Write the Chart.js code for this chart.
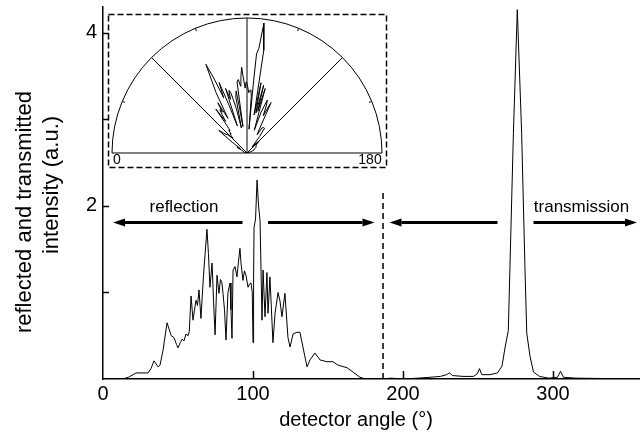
<!DOCTYPE html>
<html>
<head>
<meta charset="utf-8">
<script src="https://cdn.jsdelivr.net/npm/chart.js@4.4.1/dist/chart.umd.min.js"></script>
<style>
  html, body { margin: 0; padding: 0; background: #fff; }
  #wrap { position: relative; width: 640px; height: 439px; }
  #mainChart { position: absolute; left: 0; top: 0; }
  #insetChart { position: absolute; left: 100px; top: 5px; }
</style>
</head>
<body>
<div id="wrap">
  <canvas id="mainChart" width="640" height="439"></canvas>
  <canvas id="insetChart" width="295" height="170"></canvas>
</div>
<script>
// reflection side (detector angle 0..180)
const reflectionAngle = [13, 17, 20, 22, 26, 30, 32, 34, 36.7, 38, 40, 42.7, 44, 45.5, 47.3, 49, 50, 51.5, 52.7, 54,
  55.3, 56.7, 57.5, 58.7, 60, 61, 62, 63, 64, 65.3, 67, 69.3, 70.3, 71.3, 72.7, 73.7, 74.7, 76, 77.3, 78.3,
  79.3, 80, 81, 82, 83.3, 84.7, 85.3, 86, 86.7, 88, 89.3, 90.3, 91.3, 92, 93.3, 94.3, 95.3, 96.7, 97.7, 98.7,
  99.5, 100, 100.4, 100.7, 101.7, 102.7, 103.7, 104.7, 106, 106.7, 108, 109.3, 110, 111.3, 113.3, 114.7, 116.7, 118, 119.3, 121.3,
  123.3, 124.7, 126.7, 129.3, 131.3, 133.3, 136, 138, 141.3, 144.7, 149.3, 153.3, 156.7, 162.7, 166.7, 171.3, 175, 186.7];
const reflectionIntensity = [0.00, 0.02, 0.05, 0.07, 0.07, 0.07, 0.12, 0.21, 0.14, 0.16, 0.33, 0.65, 0.58, 0.50, 0.48, 0.40, 0.36, 0.42, 0.46, 0.44,
  0.52, 0.50, 0.55, 0.96, 0.68, 0.80, 0.91, 0.85, 1.03, 0.70, 1.20, 1.73, 1.45, 1.06, 1.34, 0.90, 0.51, 1.20, 0.99, 1.15,
  1.11, 0.99, 0.80, 0.45, 1.00, 1.11, 0.80, 0.47, 1.26, 1.30, 1.18, 1.35, 1.51, 1.34, 1.14, 1.25, 1.20, 1.06, 1.10, 1.11,
  1.00, 0.42, 1.20, 1.75, 1.85, 2.30, 2.00, 1.83, 0.68, 1.26, 0.72, 1.23, 0.76, 1.18, 0.42, 0.76, 1.00, 0.90, 0.72, 0.99,
  0.48, 0.37, 0.52, 0.54, 0.54, 0.37, 0.14, 0.22, 0.30, 0.22, 0.20, 0.20, 0.16, 0.13, 0.08, 0.02, 0.00, 0.00];

// transmission side
const transmissionAngle = [186.7, 192, 200, 210, 218, 225, 229, 231, 233, 240, 247, 249.5, 251, 252.5, 258, 263, 266, 268, 270.2, 271.3,
  273.6, 276.2, 279.1, 281.3, 282.5, 284.7, 287, 291, 297, 303, 305, 307, 315, 358];
const transmissionIntensity = [0.00, 0.01, 0.00, 0.01, 0.02, 0.03, 0.05, 0.07, 0.04, 0.03, 0.03, 0.06, 0.12, 0.05, 0.05, 0.07, 0.15, 0.36, 0.56, 1.29,
  2.84, 4.27, 2.84, 1.29, 0.53, 0.26, 0.08, 0.03, 0.01, 0.02, 0.09, 0.02, 0.01, 0.00];

const xTicks = [0, 100, 200, 300];
const yTicks = [1, 2, 3, 4];
const yLabelled = [2, 4];
const insetArcTicks = [22.5, 67.5, 112.5, 157.5];
const insetSpokes = [45, 90, 135];

const FONT = '"Liberation Sans", Arial, Helvetica, sans-serif';
Chart.defaults.font.family = FONT;
Chart.defaults.color = '#000';

const toXY = (xs, ys) => xs.map((v, i) => ({ x: v, y: ys[i] }));

function arrow(ctx, x0, x1, y) {
  const dir = Math.sign(x1 - x0);
  const head = 12;
  ctx.lineWidth = 3;
  ctx.beginPath();
  ctx.moveTo(x0, y);
  ctx.lineTo(x1 - dir * head, y);
  ctx.stroke();
  ctx.beginPath();
  ctx.moveTo(x1, y);
  ctx.lineTo(x1 - dir * head, y - 4);
  ctx.lineTo(x1 - dir * head, y + 4);
  ctx.closePath();
  ctx.fill();
}

// arrows, boundary line, labels and inward ticks
const decor = {
  id: 'decor',
  afterDraw(chart) {
    const { ctx, scales: { x, y } } = chart;
    ctx.save();
    ctx.strokeStyle = '#000';
    ctx.fillStyle = '#000';

    ctx.lineWidth = 1.5;
    xTicks.forEach(v => {
      if (v === 0) return;
      const px = Math.round(x.getPixelForValue(v)) + 0.5;
      ctx.beginPath(); ctx.moveTo(px, y.bottom); ctx.lineTo(px, y.bottom - 8); ctx.stroke();
    });
    yTicks.forEach(v => {
      const py = Math.round(y.getPixelForValue(v)) + 0.5;
      ctx.beginPath(); ctx.moveTo(x.left, py); ctx.lineTo(x.left + 6, py); ctx.stroke();
    });

    // reflection / transmission boundary
    const bx = x.getPixelForValue(186.7);
    ctx.setLineDash([6, 4]);
    ctx.lineWidth = 1.5;
    ctx.beginPath(); ctx.moveTo(bx, y.getPixelForValue(2.15)); ctx.lineTo(bx, y.bottom); ctx.stroke();
    ctx.setLineDash([]);

    const ay = y.getPixelForValue(1.81);
    [[93, 6.7], [110, 181], [263, 191], [287, 356]].forEach(([a, b]) => {
      arrow(ctx, x.getPixelForValue(a), x.getPixelForValue(b), ay);
    });

    ctx.font = '17px ' + FONT;
    ctx.textAlign = 'center';
    ctx.textBaseline = 'middle';
    ctx.fillText('reflection', x.getPixelForValue(54), y.getPixelForValue(1.98));
    ctx.fillText('transmission', x.getPixelForValue(319), y.getPixelForValue(1.98));

    // axis titles
    ctx.font = '20px ' + FONT;
    ctx.fillText('detector angle (\u00B0)', 356, 420);

    ctx.font = '22px ' + FONT;
    ctx.save();
    ctx.translate(25, 212); ctx.rotate(-Math.PI / 2);
    ctx.fillText('reflected and transmitted', 0, 0);
    ctx.restore();
    ctx.save();
    ctx.translate(52, 185); ctx.rotate(-Math.PI / 2);
    ctx.fillText('intensity (a.u.)', 0, 0);
    ctx.restore();

    ctx.restore();
  }
};

new Chart(document.getElementById('mainChart'), {
  type: 'line',
  data: {
    datasets: [
      { data: toXY(reflectionAngle, reflectionIntensity), borderColor: '#000', borderWidth: 1, pointRadius: 0, tension: 0 },
      { data: toXY(transmissionAngle, transmissionIntensity), borderColor: '#000', borderWidth: 1, pointRadius: 0, tension: 0 }
    ]
  },
  options: {
    responsive: false,
    animation: false,
    devicePixelRatio: 1,
    layout: { padding: { left: 0, right: 0, top: 7, bottom: 0 } },
    plugins: { legend: { display: false }, tooltip: { enabled: false } },
    scales: {
      x: {
        type: 'linear', min: 0, max: 358,
        afterBuildTicks: s => { s.ticks = xTicks.map(v => ({ value: v })); },
        afterFit: s => { s.height = 60; s.paddingLeft = 0; s.paddingRight = 0; },
        grid: { display: false, drawTicks: false },
        border: { display: true, color: '#000', width: 1.5 },
        ticks: { font: { size: 20 }, color: '#000', padding: 3, maxRotation: 0 }
      },
      y: {
        type: 'linear', min: 0, max: 4.3,
        afterBuildTicks: s => { s.ticks = yTicks.map(v => ({ value: v })); },
        afterFit: s => { s.width = 103; s.paddingTop = 0; s.paddingBottom = 0; },
        grid: { display: false, drawTicks: false },
        border: { display: true, color: '#000', width: 1.5 },
        ticks: { font: { size: 20 }, color: '#000', padding: 6,
          callback: v => yLabelled.includes(v) ? String(v) : '' }
      }
    }
  },
  plugins: [decor]
});

// inset: reflection data in polar form, 0 on the left, 180 on the right
const insetAngleOffset = -5;
const insetRMax = 2.46;
const insetPoints = reflectionAngle.map((a, i) => {
  const t = (180 - (a + insetAngleOffset)) * Math.PI / 180;
  return { x: reflectionIntensity[i] * Math.cos(t), y: reflectionIntensity[i] * Math.sin(t) };
});

const polarFrame = {
  id: 'polarFrame',
  beforeDatasetsDraw(chart) {
    const { ctx, scales: { x, y } } = chart;
    const cx = x.getPixelForValue(0), cy = y.getPixelForValue(0);
    const R = x.getPixelForValue(insetRMax) - cx;
    ctx.save();
    ctx.strokeStyle = '#000';
    ctx.fillStyle = '#000';

    ctx.lineWidth = 1.5;
    ctx.setLineDash([6, 3]);
    ctx.strokeRect(8.5, 9.5, 278, 153);
    ctx.setLineDash([]);

    ctx.lineWidth = 1;
    ctx.beginPath();
    ctx.arc(cx, cy, R, Math.PI, 2 * Math.PI);
    ctx.closePath();
    ctx.stroke();

    insetSpokes.forEach(d => {
      const t = (180 - d) * Math.PI / 180;
      ctx.beginPath(); ctx.moveTo(cx, cy);
      ctx.lineTo(cx + R * Math.cos(t), cy - R * Math.sin(t)); ctx.stroke();
    });
    insetArcTicks.forEach(d => {
      const t = (180 - d) * Math.PI / 180;
      ctx.beginPath();
      ctx.moveTo(cx + R * Math.cos(t), cy - R * Math.sin(t));
      ctx.lineTo(cx + (R - 3) * Math.cos(t), cy - (R - 3) * Math.sin(t)); ctx.stroke();
    });

    ctx.font = '14px ' + FONT;
    ctx.textBaseline = 'middle';
    ctx.textAlign = 'center';
    ctx.fillText('0', 17, 155);
    ctx.fillText('180', 270, 155);
    ctx.restore();
  }
};

new Chart(document.getElementById('insetChart'), {
  type: 'scatter',
  data: {
    datasets: [{ data: insetPoints, showLine: true, borderColor: '#000', borderWidth: 1, pointRadius: 0, tension: 0 }]
  },
  options: {
    responsive: false,
    animation: false,
    devicePixelRatio: 1,
    layout: { padding: { left: 12, right: 13, top: 8, bottom: 22 } },
    plugins: { legend: { display: false }, tooltip: { enabled: false } },
    scales: {
      x: { type: 'linear', min: -insetRMax, max: insetRMax, display: false },
      y: { type: 'linear', min: 0, max: insetRMax, display: false }
    }
  },
  plugins: [polarFrame]
});
</script>
</body>
</html>
